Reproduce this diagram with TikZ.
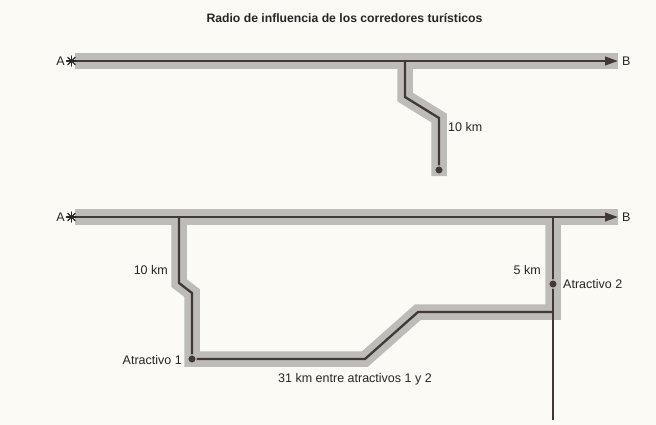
\documentclass[tikz,border=0pt]{standalone}
\usepackage{fontspec}
\setmainfont{Liberation Sans}
\usetikzlibrary{arrows.meta}
\definecolor{bandgray}{RGB}{190,188,184}
\definecolor{roadcol}{RGB}{66,56,54}
\definecolor{txtcol}{RGB}{40,38,36}
\definecolor{paper}{RGB}{251,250,245}
\begin{document}
\begin{tikzpicture}[x=1pt,y=-1pt,
  band/.style={draw=bandgray,line width=15.5pt,line join=miter,line cap=butt},
  road/.style={draw=roadcol,line width=2.3pt,line join=miter},
  roadarrow/.style={road,-{Triangle[length=13pt,width=8.5pt]}},
  lbl/.style={text=txtcol,font=\fontsize{12.5}{14}\selectfont,inner sep=0pt},
  spot/.style={circle,fill=roadcol,draw=bandgray,line width=1.1pt,minimum size=8.5pt,inner sep=0pt},
  starline/.style={draw=txtcol,line width=1.4pt,line cap=round},
  starbox/.style={inner sep=0pt,minimum size=9.5pt}]
\useasboundingbox[fill=paper] (0,0) rectangle (656,425);

% title
\node[lbl,font=\bfseries\fontsize{12.2}{14}\selectfont] (title) at (344.5,18) {Radio de influencia de los corredores turísticos};

% ---------------- top diagram ----------------
\coordinate (t0) at (75,61);
\coordinate (t1) at (77,61);
\coordinate (tB) at (618,61);
\coordinate (tj) at (405,61);
\coordinate (tk1) at (405,97);
\coordinate (tk2) at (439,118);
\coordinate (tend) at (439,176);
\coordinate (tdot) at (439,170);

\draw[band] (t0) -- (tB);
\draw[band] (tj) -- (tk1) -- (tk2) -- (tend);
\draw[roadarrow] (t1) -- (tB);
\draw[road] (tj) -- (tk1) -- (tk2) -- (tdot);
\node[spot] (tspot) at (tdot) {};

\node[lbl,anchor=base east] (tA) at (65,65.5) {A};
\node[starbox] (tstar) at (71.5,61) {};
\draw[starline] (tstar.north) -- (tstar.south);
\draw[starline] (tstar.east) -- (tstar.west);
\draw[starline] ([shift={(-1.4,1.4)}]tstar.north east) -- ([shift={(1.4,-1.4)}]tstar.south west);
\draw[starline] ([shift={(1.4,1.4)}]tstar.north west) -- ([shift={(-1.4,-1.4)}]tstar.south east);
\node[lbl,anchor=base west] (tBl) at (622,65.5) {B};
\node[lbl,anchor=base west] (tkm) at (448,131.5) {10 km};

% ---------------- bottom diagram ----------------
\coordinate (b0) at (75,217);
\coordinate (b1) at (77,217);
\coordinate (bB) at (618,217);
\coordinate (lj) at (179,217);
\coordinate (lk1) at (179,283);
\coordinate (lk2) at (192,293);
\coordinate (lc) at (192,359);
\coordinate (m1) at (365,359);
\coordinate (m2) at (418,312);
\coordinate (rc) at (553,312);
\coordinate (rj) at (553,217);
\coordinate (rdot) at (553,284);
\coordinate (rend) at (553,420);

\draw[band] (b0) -- (bB);
\draw[band] (lj) -- (lk1) -- (lk2) -- (lc) -- (m1) -- (m2) -- (rc) -- (rj);
\draw[roadarrow] (b1) -- (bB);
\draw[road] (lj) -- (lk1) -- (lk2) -- (lc) -- (m1) -- (m2) -- (rc);
\draw[road] (rj) -- (rend);
\node[spot] (d1) at (lc) {};
\node[spot] (d2) at (rdot) {};

\node[lbl,anchor=base east] (bA) at (65,221.5) {A};
\node[starbox] (bstar) at (71.5,217) {};
\draw[starline] (bstar.north) -- (bstar.south);
\draw[starline] (bstar.east) -- (bstar.west);
\draw[starline] ([shift={(-1.4,1.4)}]bstar.north east) -- ([shift={(1.4,-1.4)}]bstar.south west);
\draw[starline] ([shift={(1.4,1.4)}]bstar.north west) -- ([shift={(-1.4,-1.4)}]bstar.south east);
\node[lbl,anchor=base west] (bBl) at (622,221.5) {B};
\node[lbl,anchor=base east] (lkm) at (168,274.5) {10 km};
\node[lbl,anchor=base east] (rkm) at (541,274.5) {5 km};
\node[lbl,anchor=base east] (at1) at (182,364.5) {Atractivo 1};
\node[lbl,anchor=base west] (at2) at (563,288.5) {Atractivo 2};
\node[lbl,anchor=base] (dist) at (355,382.5) {31 km entre atractivos 1 y 2};
\end{tikzpicture}
\end{document}
